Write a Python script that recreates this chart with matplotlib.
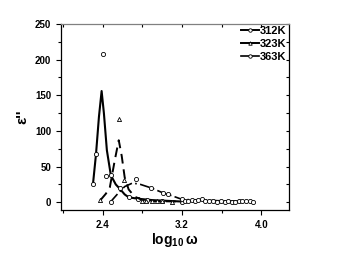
import matplotlib
matplotlib.use("Agg")
import matplotlib.pyplot as plt
from matplotlib.ticker import MultipleLocator, NullFormatter

# 312K : measured points and smooth curve
x312 = [2.30, 2.33, 2.40, 2.43, 2.48, 2.57, 2.66, 2.75, 2.85, 3.00, 3.20]
y312 = [26, 67, 208, 37, 38, 20, 7, 5, 3, 2, 1]
cx312 = [2.30, 2.33, 2.36, 2.387, 2.41, 2.44, 2.48, 2.53, 2.57, 2.62, 2.66, 2.75, 2.90, 3.05, 3.20]
cy312 = [26, 67, 120, 156, 125, 73, 38, 25, 19, 11, 7, 5, 3, 2, 1]

# 323K
x323 = [2.375, 2.56, 2.615, 2.79, 2.84, 2.90, 2.95, 3.00, 3.10]
y323 = [3, 117, 31, 1.5, 1.5, 1.5, 1.5, 1.2, 1]
cx323 = [2.375, 2.43, 2.47, 2.52, 2.56, 2.59, 2.62, 2.66, 2.72, 2.80, 2.95, 3.20]
cy323 = [3, 12, 21, 59, 87, 65, 35, 18, 8, 3, 1.5, 1]

# 363K
x363 = [2.48, 2.73, 2.89, 3.01, 3.06, 3.20, 3.23, 3.26, 3.30, 3.33, 3.36, 3.40, 3.43,
        3.47, 3.51, 3.55, 3.59, 3.63, 3.66, 3.70, 3.73, 3.77, 3.81, 3.85, 3.89, 3.92]
y363 = [1, 33, 20, 13, 12, 5, 2, 2, 3, 2, 3, 4, 2, 2, 2, 1, 2, 1, 2, 1, 1, 2, 2, 2, 2, 1]
cx363 = [2.48, 2.55, 2.62, 2.70, 2.78, 2.89, 3.01, 3.10, 3.20, 3.40, 3.60, 3.92]
cy363 = [1, 12, 22, 27, 25, 20, 13, 9, 4, 3, 2, 1]

labels = ["312K", "323K", "363K"]

plt.rcParams['font.family'] = 'Liberation Sans'
plt.rcParams['font.weight'] = 'bold'
plt.rcParams['axes.labelweight'] = 'bold'
plt.rcParams['mathtext.fontset'] = 'custom'
plt.rcParams['mathtext.rm'] = 'Liberation Sans:bold'
plt.rcParams['mathtext.default'] = 'rm'

fig = plt.figure(figsize=(3.38, 2.61), dpi=100)
ax = fig.add_axes([0.180, 0.195, 0.675, 0.713])

mk = dict(ms=3, mfc='white', mec='black', mew=0.6, ls='none')
ax.plot(cx312, cy312, color='black', lw=1.5, ls='-')
ax.plot(x312, y312, marker='o', **mk)
ax.plot(cx323, cy323, color='black', lw=1.4, ls=(0, (5, 3)))
ax.plot(x323, y323, marker='^', **mk)
ax.plot(cx363, cy363, color='black', lw=1.2, ls=(0, (6, 2, 1, 2)))
ax.plot(x363, y363, marker='o', **mk)

# legend handles
h1, = ax.plot([], [], color='black', lw=1.4, ls='-', marker='o', ms=2.5, mfc='white', mec='black', mew=0.6)
h2, = ax.plot([], [], color='black', lw=1.4, ls='-', marker='^', ms=2.5, mfc='white', mec='black', mew=0.6)
h3, = ax.plot([], [], color='black', lw=1.2, ls='-', marker='o', ms=2.5, mfc='white', mec='black', mew=0.6)
ax.legend([h1, h2, h3], labels, loc='upper right', frameon=False,
          prop={'size': 8, 'weight': 'bold'},
          handlelength=1.6, handletextpad=0.1, labelspacing=0.25, borderaxespad=0.0,
          borderpad=0.2)

ax.set_xlim(1.975, 4.28)
ax.set_ylim(-11, 250)
ax.xaxis.set_major_locator(MultipleLocator(0.8))
ax.xaxis.set_minor_locator(MultipleLocator(0.4))
ax.yaxis.set_major_locator(MultipleLocator(50))
ax.yaxis.set_minor_locator(MultipleLocator(25))
ax.tick_params(which='both', direction='out', labelsize=7, width=0.8)
ax.tick_params(which='major', length=3.5)
ax.tick_params(which='minor', length=2)
ax.xaxis.set_major_formatter(plt.FuncFormatter(lambda v, _: f"{v:.1f}"))
for s in ax.spines.values():
    s.set_linewidth(0.9)
ax.spines['top'].set_color('gray')

# inward ticks on top and right
top = ax.secondary_xaxis('top')
top.xaxis.set_major_locator(MultipleLocator(0.4))
top.xaxis.set_major_formatter(NullFormatter())
top.tick_params(direction='in', length=2.5, width=0.8)
top.spines['top'].set_visible(False)
right = ax.secondary_yaxis('right')
right.yaxis.set_major_locator(MultipleLocator(25))
right.yaxis.set_major_formatter(NullFormatter())
right.tick_params(direction='in', length=2.5, width=0.8)
right.spines['right'].set_visible(False)

ax.set_xlabel(r"log$_{10}\,\omega$", fontsize=10, labelpad=1)
ax.set_ylabel("ε''", fontsize=11, labelpad=4)

fig.savefig("out.png", dpi=100)
